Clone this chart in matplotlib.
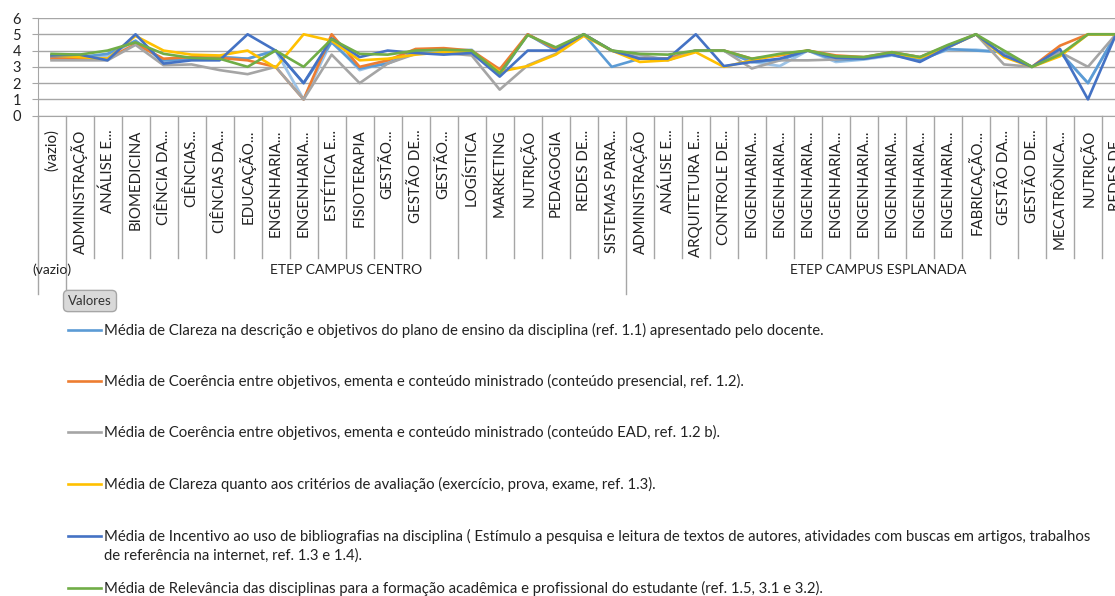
import matplotlib
matplotlib.use("Agg")
import matplotlib.pyplot as plt
from matplotlib.lines import Line2D

plt.rcParams['font.family'] = ['Lato', 'DejaVu Sans']

# categories (course names), grouped by campus
groups = ['(vazio)', 'ETEP CAMPUS CENTRO', 'ETEP CAMPUS ESPLANADA']
group_sizes = [1, 20, 18]
categories = [
    '(vazio)',
    'ADMINISTRAÇÃO', 'ANÁLISE E...', 'BIOMEDICINA', 'CIÊNCIA DA...', 'CIÊNCIAS...',
    'CIÊNCIAS DA...', 'EDUCAÇÃO...', 'ENGENHARIA...', 'ENGENHARIA...', 'ESTÉTICA E...',
    'FISIOTERAPIA', 'GESTÃO...', 'GESTÃO DE...', 'GESTÃO...', 'LOGÍSTICA',
    'MARKETING', 'NUTRIÇÃO', 'PEDAGOGIA', 'REDES DE...', 'SISTEMAS PARA...',
    'ADMINISTRAÇÃO', 'ANÁLISE E...', 'ARQUITETURA E...', 'CONTROLE DE...',
    'ENGENHARIA...', 'ENGENHARIA...', 'ENGENHARIA...', 'ENGENHARIA...',
    'ENGENHARIA...', 'ENGENHARIA...', 'ENGENHARIA...', 'ENGENHARIA...',
    'FABRICAÇÃO...', 'GESTÃO DA...', 'GESTÃO DE...', 'MECATRÔNICA...',
    'NUTRIÇÃO', 'REDES DE...',
]

# series values (one per category)
clareza_plano = [3.6, 3.6, 3.8, 4.6, 3.4, 3.5, 3.6, 3.5, 4.0, 2.0, 4.5, 2.9, 3.2, 3.9, 3.8,
                 4.0, 2.5, 5.0, 4.0, 5.0, 3.0, 3.5, 3.5, 4.0, 4.0, 3.3, 3.4, 4.0, 3.4, 3.5,
                 3.75, 3.4, 4.1, 4.0, 3.9, 3.0, 3.9, 2.0, 5.0]
coerencia_pres = [3.5, 3.5, 3.5, 4.4, 3.5, 3.6, 3.55, 3.4, 3.0, 1.0, 5.0, 3.0, 3.4, 4.1, 4.15,
                  4.0, 2.85, 5.0, 4.1, 5.0, 4.0, 3.5, 3.5, 4.0, 4.0, 3.5, 3.7, 4.0, 3.7, 3.6,
                  3.9, 3.6, 4.3, 5.0, 3.7, 3.0, 4.3, 5.0, 5.0]
coerencia_ead = [3.4, 3.4, 3.4, 4.35, 3.1, 3.15, 2.8, 2.55, 3.0, 1.0, 3.75, 2.0, 3.2, 3.8, 3.85,
                 3.7, 1.6, 3.1, 3.8, 5.0, 4.0, 3.75, 3.4, 4.0, 4.0, 2.9, 3.4, 3.4, 3.45, 3.55,
                 3.85, 3.6, 4.2, 5.0, 3.15, 3.0, 3.9, 3.0, 5.0]
clareza_aval = [3.7, 3.6, 3.5, 4.9, 4.0, 3.75, 3.7, 4.0, 2.95, 5.0, 4.6, 3.4, 3.5, 3.75, 3.9,
                3.9, 2.7, 3.05, 3.75, 4.9, 4.0, 3.3, 3.4, 3.9, 3.0, 3.4, 3.75, 4.0, 3.6, 3.55,
                3.85, 3.55, 4.2, 5.0, 3.6, 3.0, 3.65, 5.0, 5.0]
incentivo_biblio = [3.7, 3.75, 3.4, 5.0, 3.2, 3.4, 3.4, 5.0, 4.0, 2.0, 4.75, 3.6, 4.0, 3.85, 3.75,
                    3.85, 2.4, 4.0, 4.0, 5.0, 4.0, 3.5, 3.5, 5.0, 3.05, 3.3, 3.5, 4.0, 3.55, 3.5,
                    3.75, 3.3, 4.2, 5.0, 3.7, 3.0, 4.1, 1.0, 5.0]
relevancia = [3.8, 3.75, 4.0, 4.5, 3.8, 3.55, 3.5, 3.0, 4.0, 3.0, 4.7, 3.8, 3.75, 4.0, 4.05,
              4.0, 2.6, 4.95, 4.2, 5.0, 4.0, 3.8, 3.75, 4.0, 4.0, 3.5, 3.8, 4.0, 3.65, 3.6,
              3.9, 3.6, 4.35, 5.0, 4.0, 3.0, 3.75, 5.0, 5.0]
# seventh series, its legend entry is cut off in the reference
serie7 = [3.6, 3.6, 3.7, 4.6, 3.3, 3.5, 3.6, 3.5, 4.0, 1.0, 4.6, 2.8, 3.3, 3.9, 4.0,
          4.05, 2.55, 5.0, 4.0, 5.0, 4.0, 3.6, 3.5, 4.0, 4.0, 3.3, 3.05, 4.0, 3.3, 3.45,
          3.7, 3.45, 4.05, 4.05, 3.9, 3.0, 3.9, 2.0, 5.0]

labels = [
    'Média de Clareza na descrição e objetivos do plano de ensino da disciplina (ref. 1.1) apresentado pelo docente.',
    'Média de Coerência entre objetivos, ementa e conteúdo ministrado (conteúdo presencial, ref. 1.2).',
    'Média de Coerência entre objetivos, ementa e conteúdo ministrado (conteúdo EAD, ref. 1.2 b).',
    'Média de Clareza quanto aos critérios de avaliação (exercício, prova, exame, ref. 1.3).',
    'Média de Incentivo ao uso de bibliografias na disciplina ( Estímulo a pesquisa e leitura de textos de autores, atividades com buscas em artigos, trabalhos\nde referência na internet, ref. 1.3 e 1.4).',
    'Média de Relevância das disciplinas para a formação acadêmica e profissional do estudante (ref. 1.5, 3.1 e 3.2).',
]
colors = ['#5B9BD5', '#ED7D31', '#A5A5A5', '#FFC000', '#4472C4', '#70AD47']

W, H = 1115, 596
fig = plt.figure(figsize=(W / 100, H / 100), dpi=100)
ax = fig.add_axes([37.5 / W, 1 - 115.7 / H, (1130 - 37.5) / W, (115.7 - 18) / H])

x = list(range(len(categories)))
series = [clareza_plano, coerencia_pres, coerencia_ead, clareza_aval, incentivo_biblio, relevancia]
ax.plot(x, serie7, color='#9DC3E6', lw=2, zorder=3)
for vals, c in zip(series, colors):
    ax.plot(x, vals, color=c, lw=1.9, zorder=3)

ax.set_xlim(-0.5, len(categories) - 0.5)
ax.set_ylim(0, 6)
ax.set_yticks(range(7))
ax.grid(axis='y', color='#a6a6a6', lw=1)
ax.set_axisbelow(True)
for s in ['top', 'right']:
    ax.spines[s].set_visible(False)
for s in ['left', 'bottom']:
    ax.spines[s].set_color('#a6a6a6')
ax.tick_params(axis='y', length=4, color='#a6a6a6', pad=8, labelsize=10.5, labelcolor='#222222')
ax.set_xticks(x)
ax.set_xticklabels(categories, rotation=90, fontsize=10.8, color='#222222')
ax.tick_params(axis='x', length=0, pad=10)

# category separators and group separators below the axis
tr = ax.get_xaxis_transform()
short_end = -(258 - 115.7) / 97.7
long_end = -(294 - 115.7) / 97.7
bounds = [0]
for n in group_sizes:
    bounds.append(bounds[-1] + n)
for k in range(len(categories) + 1):
    end = long_end if k in bounds else short_end
    ax.add_line(Line2D([k - 0.5, k - 0.5], [0, end], transform=tr, color='#a6a6a6',
                       lw=1, clip_on=False))
for g, a, b in zip(groups, bounds[:-1], bounds[1:]):
    ax.text((a + b - 1) / 2, -(270 - 115.7) / 97.7, g, transform=tr, ha='center',
            va='center', fontsize=10, color='#222222')

# legend
fig.text(90 / W, 1 - 301 / H, 'Valores', ha='center', va='center', fontsize=9.5,
         color='#333333', bbox=dict(boxstyle='round,pad=0.35', fc='#d9d9d9', ec='#a6a6a6'))
ys = [330, 381, 432, 484, 536, 588]
for lab, c, y in zip(labels, colors, ys):
    fig.add_artist(Line2D([68 / W, 101 / W], [1 - y / H, 1 - y / H], color=c, lw=1.9))
    for j, part in enumerate(lab.split('\n')):
        fig.text(104 / W, 1 - (y + 20 * j) / H, part, ha='left', va='center',
                 fontsize=10.7, color='#222222')

fig.savefig('out.png', dpi=100)
